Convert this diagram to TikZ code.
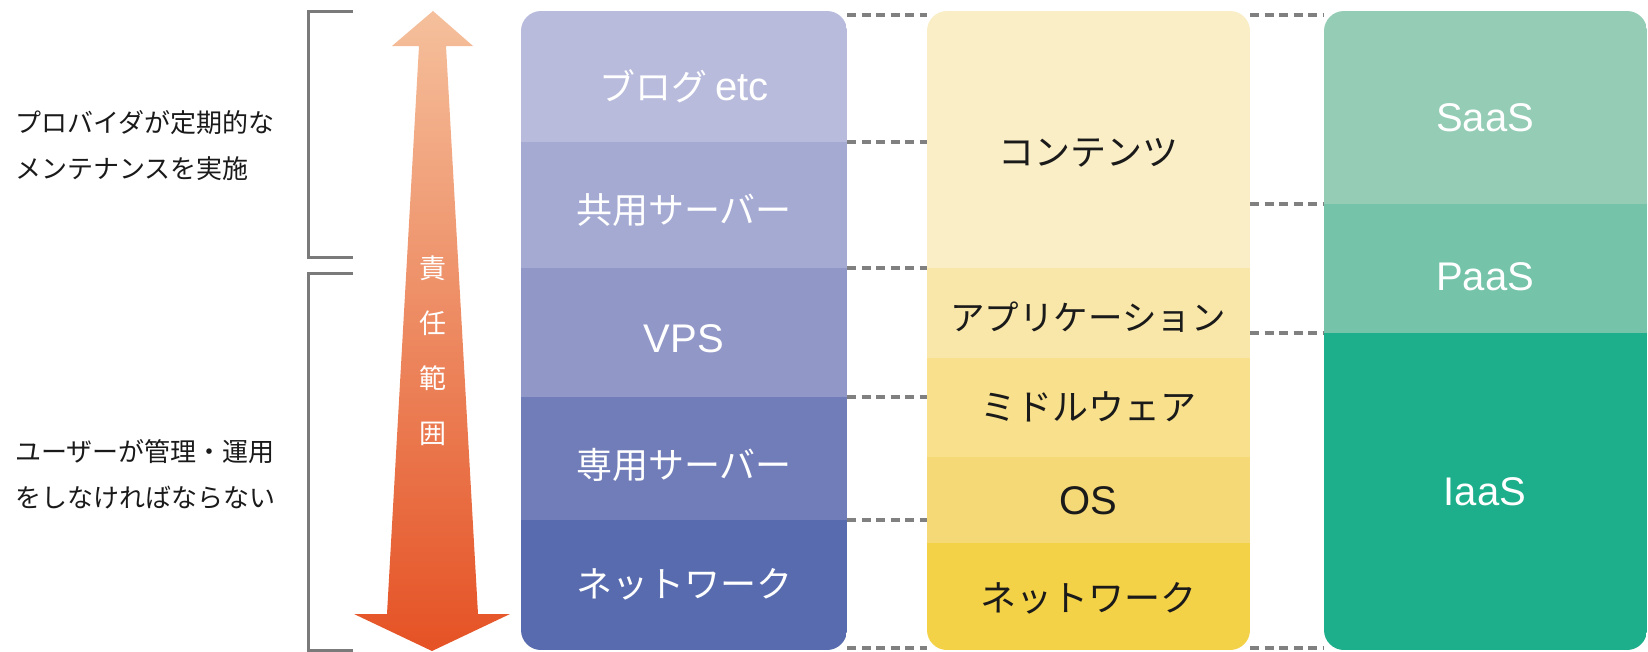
\documentclass[tikz,border=0pt]{standalone}
\usepackage{fontspec}
\setmainfont{Noto Sans CJK JP}
\newfontfamily\latf{Liberation Sans}
\definecolor{pa}{HTML}{B8BBDC}
\definecolor{pb}{HTML}{A5AAD3}
\definecolor{pc}{HTML}{9197C7}
\definecolor{pd}{HTML}{717DB8}
\definecolor{pe}{HTML}{586BAE}
\definecolor{ya}{HTML}{FAEEC6}
\definecolor{yb}{HTML}{F9E6A9}
\definecolor{yc}{HTML}{F8E08C}
\definecolor{yd}{HTML}{F6D977}
\definecolor{ye}{HTML}{F4D247}
\definecolor{ga}{HTML}{95CCB5}
\definecolor{gb}{HTML}{75C3A8}
\definecolor{gc}{HTML}{1DAF8C}
\definecolor{guide}{HTML}{808080}
\definecolor{brk}{HTML}{7A7A7A}
\definecolor{atop}{HTML}{F5C09C}
\definecolor{abot}{HTML}{E55225}
\definecolor{ink}{HTML}{1A1A1A}
\newcommand\jbig{\fontsize{36}{42}\selectfont}
\newcommand\jsm{\fontsize{34.5}{40}\selectfont}
\newcommand\lbig{\latf\fontsize{40}{44}\selectfont}
\newcommand\jmid{\fontsize{26}{30}\selectfont}
\begin{document}
\begin{tikzpicture}[x=1pt,y=-1pt,
  rowbox/.style={anchor=north west,inner sep=0,outer sep=0,draw=none},
  wtxt/.style={text=white,font=\jbig,inner sep=0},
  btxt/.style={text=ink,font=\jbig,inner sep=0},
  side/.style={text=ink,font=\jmid,inner sep=0,anchor=west},
  guideline/.style={draw=guide,line width=3.5pt,dash pattern=on 9pt off 5.5pt},
  bracket/.style={draw=brk,line width=3pt},
  vch/.style={text=white,font=\fontsize{27}{30}\selectfont,inner sep=0}]
\useasboundingbox[fill=white] (0,0) rectangle (1648,651);

% column 1
\begin{scope}
\clip[rounded corners=20pt] (521,11) rectangle (847,650);
\node[rowbox,fill=pa,minimum width=326pt,minimum height=131pt] (b1) at (521,11) {};
\node[rowbox,fill=pb,minimum width=326pt,minimum height=126pt] (b2) at (521,142) {};
\node[rowbox,fill=pc,minimum width=326pt,minimum height=129pt] (b3) at (521,268) {};
\node[rowbox,fill=pd,minimum width=326pt,minimum height=123pt] (b4) at (521,397) {};
\node[rowbox,fill=pe,minimum width=326pt,minimum height=130pt] (b5) at (521,520) {};
\end{scope}
% column 2
\begin{scope}
\clip[rounded corners=20pt] (927,11) rectangle (1250,650);
\node[rowbox,fill=ya,minimum width=323pt,minimum height=257pt] (y1) at (927,11) {};
\node[rowbox,fill=yb,minimum width=323pt,minimum height=90pt] (y2) at (927,268) {};
\node[rowbox,fill=yc,minimum width=323pt,minimum height=99pt] (y3) at (927,358) {};
\node[rowbox,fill=yd,minimum width=323pt,minimum height=86pt] (y4) at (927,457) {};
\node[rowbox,fill=ye,minimum width=323pt,minimum height=107pt] (y5) at (927,543) {};
\end{scope}
% column 3
\begin{scope}
\clip[rounded corners=20pt] (1324,11) rectangle (1647,650);
\node[rowbox,fill=ga,minimum width=323pt,minimum height=193pt] (g1) at (1324,11) {};
\node[rowbox,fill=gb,minimum width=323pt,minimum height=129pt] (g2) at (1324,204) {};
\node[rowbox,fill=gc,minimum width=323pt,minimum height=317pt] (g3) at (1324,333) {};
\end{scope}

% left gap guides
\draw[guideline] (b1.south east) -- (b1.south east -| y1.west);
\draw[guideline] (b2.south east) -- (b2.south east -| y1.west);
\draw[guideline] (b3.south east) -- (b3.south east -| y2.west);
\draw[guideline] (b4.south east) -- (b4.south east -| y4.west);
% right gap guides
\draw[guideline] (g1.south west -| y1.east) -- (g1.south west);
\draw[guideline] (g2.south west -| y2.east) -- (g2.south west);
% top and bottom guides
\draw[guideline] ([yshift=-4pt]b1.north east) -- ([yshift=-4pt]y1.north west);
\draw[guideline] ([yshift=-4pt]y1.north east) -- ([yshift=-4pt]g1.north west);
\draw[guideline] ([yshift=2pt]b5.south east) -- ([yshift=2pt]y5.south west);
\draw[guideline] ([yshift=2pt]y5.south east) -- ([yshift=2pt]g3.south west);

% column texts
\node[wtxt] (t1) at (684,86) {ブログ {\lbig etc}};
\node[wtxt] (t2) at (684,210) {共用サーバー};
\node[wtxt,font=\lbig] (t3) at (684,339) {VPS};
\node[wtxt] (t4) at (684,465) {専用サーバー};
\node[wtxt] (t5) at (684,584) {ネットワーク};

\node[btxt] (u1) at (1088,153) {コンテンツ};
\node[btxt,font=\jsm] (u2) at (1088,317) {アプリケーション};
\node[btxt] (u3) at (1088,407) {ミドルウェア};
\node[btxt,font=\lbig] (u4) at (1088,501) {OS};
\node[btxt] (u5) at (1088,598) {ネットワーク};

\node[wtxt,font=\lbig] (s1) at (1485,118) {SaaS};
\node[wtxt,font=\lbig] (s2) at (1485,277) {PaaS};
\node[wtxt,font=\lbig] (s3) at (1485,492) {IaaS};

% brackets
\draw[bracket] (353,11) -- (308,11) -- (308,257) -- (353,257);
\draw[bracket] (353,273) -- (308,273) -- (308,650) -- (353,650);

% side labels
\node[side] (l1) at (15,123) {プロバイダが定期的な};
\node[side] (l2) at (15,169) {メンテナンスを実施};
\node[side] (l3) at (15,452) {ユーザーが管理・運用};
\node[side] (l4) at (15,498) {をしなければならない};

% responsibility arrow
\shade[top color=atop,bottom color=abot]
  (433,11) -- (473,46) -- (446,46) -- (478,614) -- (510,614) -- (432,651)
  -- (354,614) -- (387,614) -- (419,46) -- (392,46) -- cycle;
\node[vch] (r1) at (433,268) {責};
\node[vch] (r2) at (433,323) {任};
\node[vch] (r3) at (433,378) {範};
\node[vch] (r4) at (433,434) {囲};
\end{tikzpicture}
\end{document}
